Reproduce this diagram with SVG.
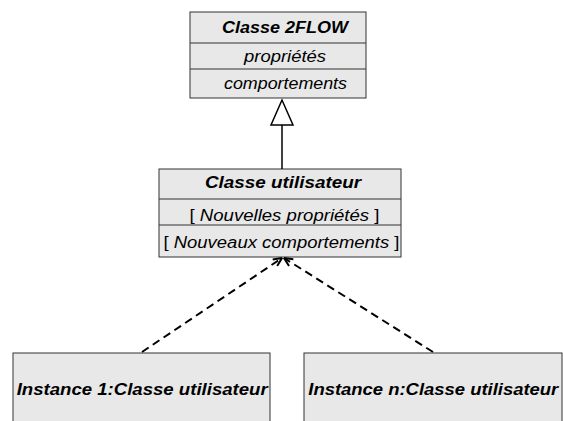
<svg xmlns="http://www.w3.org/2000/svg" width="563" height="421" viewBox="0 0 563 421">
<style>
.box{fill:#e8e8e8;stroke:#333;stroke-width:1}
.t{font-family:"Liberation Sans",Arial,sans-serif;font-size:16px;font-style:italic;fill:#000}
.b{font-weight:bold}
.n{font-style:normal}
.conn{fill:none;stroke:#000;stroke-width:1.5}
.dash{stroke-width:2;stroke-dasharray:8,5}
</style>
<defs>
<marker id="open" viewBox="0 0 10 10" refX="9.5" refY="5" markerWidth="10" markerHeight="10" markerUnits="userSpaceOnUse" orient="auto">
<path d="M1,1 L9.5,5 L1,9" fill="none" stroke="#000" stroke-width="2"/>
</marker>
</defs>
<rect width="563" height="421" fill="#fff"/>
<g id="classe2flow">
<rect class="box" x="190" y="12" width="176" height="86"/>
<line class="box" x1="190" y1="43" x2="366" y2="43"/>
<line class="box" x1="190" y1="69" x2="366" y2="69"/>
<text class="t b" x="222" y="32.5" textLength="126" lengthAdjust="spacingAndGlyphs">Classe 2FLOW</text>
<text class="t" x="244" y="61.5" textLength="82" lengthAdjust="spacingAndGlyphs">propriétés</text>
<text class="t" x="224" y="89.3" textLength="123" lengthAdjust="spacingAndGlyphs">comportements</text>
</g>
<g id="classeutil">
<rect class="box" x="159" y="169" width="242" height="88"/>
<line class="box" x1="159" y1="199" x2="401" y2="199"/>
<line class="box" x1="159" y1="225" x2="401" y2="225"/>
<text class="t b" x="205" y="188.3" textLength="156" lengthAdjust="spacingAndGlyphs">Classe utilisateur</text>
<text class="t" x="189.5" y="221" textLength="190" lengthAdjust="spacingAndGlyphs"><tspan class="n">[ </tspan>Nouvelles propriétés<tspan class="n"> ]</tspan></text>
<text class="t" x="163.5" y="248.3" textLength="236" lengthAdjust="spacingAndGlyphs"><tspan class="n">[ </tspan>Nouveaux comportements<tspan class="n"> ]</tspan></text>
</g>
<g id="instance1">
<rect class="box" x="13" y="353" width="257" height="80"/>
<text class="t b" x="16.7" y="395" textLength="251" lengthAdjust="spacingAndGlyphs">Instance 1:Classe utilisateur</text>
</g>
<g id="instancen">
<rect class="box" x="304" y="353" width="258" height="80"/>
<text class="t b" x="308.3" y="395" textLength="250" lengthAdjust="spacingAndGlyphs">Instance n:Classe utilisateur</text>
</g>
<g id="connectors">
<line class="conn" x1="282" y1="125" x2="282" y2="169"/>
<polygon points="282,100 271,125 293,125" fill="#fff" stroke="#000" stroke-width="1.5"/>
<line class="conn dash" x1="142" y1="352" x2="282" y2="258" marker-end="url(#open)"/>
<line class="conn dash" x1="433" y1="352" x2="284" y2="258" marker-end="url(#open)"/>
</g>
</svg>
